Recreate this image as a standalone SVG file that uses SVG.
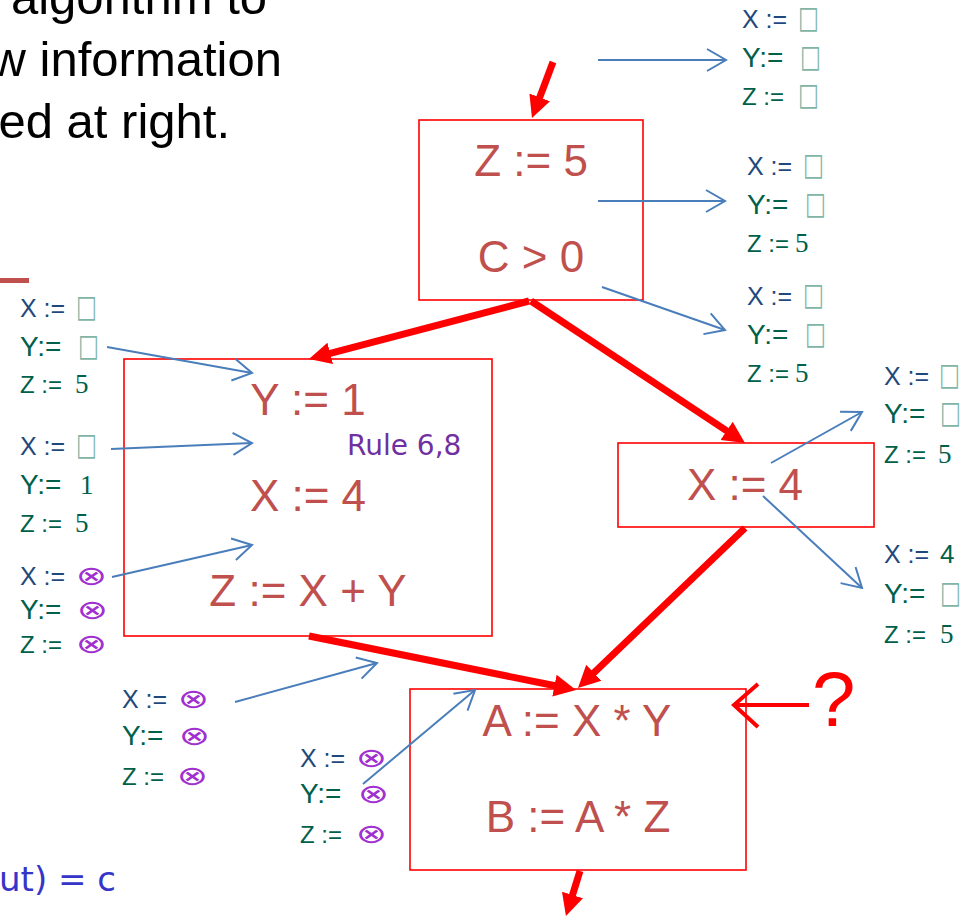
<svg xmlns="http://www.w3.org/2000/svg" width="961" height="916" viewBox="0 0 961 916">
  <style>
    .prose { font-family: "Liberation Sans", Arial, sans-serif; font-size: 49px; fill: #000; }
    .stmt { font-family: "Liberation Sans", Arial, sans-serif; font-size: 44px; fill: #c0504d; text-anchor: middle; }
    .blk { fill: #fff; stroke: #ff0000; stroke-width: 1.6; }
    .rule { font-family: "DejaVu Sans", sans-serif; font-size: 28px; fill: #7030a0; }
    .lx { font-family: "Liberation Sans", Arial, sans-serif; font-size: 25px; fill: #1f497d; }
    .ly { font-family: "Liberation Sans", Arial, sans-serif; font-size: 28px; fill: #00604a; }
    .lz { font-family: "Liberation Sans", Arial, sans-serif; font-size: 24px; fill: #00604a; }
    .num { font-family: "Liberation Serif", "Times New Roman", serif; font-size: 27px; fill: #00604a; }
    .sans { font-family: "Liberation Sans", Arial, sans-serif; font-size: 26px; fill: #00604a; }
    .top { font-family: "DejaVu Sans", sans-serif; font-size: 26px; fill: #7fb5a6; }
    .bot { font-family: "DejaVu Sans", sans-serif; font-size: 30px; font-style: italic; fill: #a030d0; }
    .flow { fill: none; stroke: #ff0000; stroke-width: 7; marker-end: url(#redHead); }
    .info { fill: none; stroke: #4a7ebb; stroke-width: 2; marker-end: url(#blueHead); }
  </style>
  <defs>
    <marker id="redHead" viewBox="-2 -12 24 24" refX="0" refY="0" markerWidth="24" markerHeight="24" markerUnits="userSpaceOnUse" orient="auto">
      <path d="M-2,-11 L20,0 L-2,11 Z" fill="#ff0000"/>
    </marker>
    <marker id="blueHead" viewBox="-22 -14 24 28" refX="0" refY="0" markerWidth="24" markerHeight="28" markerUnits="userSpaceOnUse" orient="auto">
      <path d="M-19,-11 L0,0 L-19,11" fill="none" stroke="#4a7ebb" stroke-width="2"/>
    </marker>
  </defs>

  <rect width="961" height="916" fill="#fff"/>

  <!-- slide prose, running off the left edge -->
  <g id="prose">
    <text class="prose" x="267" y="14" text-anchor="end">algorithm to</text>
    <text class="prose" x="282" y="76" text-anchor="end">w information</text>
    <text class="prose" x="230" y="138" text-anchor="end">ed at right.</text>
    <rect x="0" y="278" width="29" height="5" fill="#c0504d"/>
    <text x="116" y="891" text-anchor="end" font-family="DejaVu Sans, sans-serif" font-size="34" fill="#3535c8">ut) = c</text>
  </g>

  <!-- basic blocks -->
  <g id="block-entry">
    <rect class="blk" x="419" y="120" width="224" height="180"/>
    <text class="stmt" x="531" y="176">Z := 5</text>
    <text class="stmt" x="531" y="272">C &gt; 0</text>
  </g>
  <g id="block-then">
    <rect class="blk" x="124" y="359" width="368" height="277"/>
    <text class="stmt" x="308" y="415">Y := 1</text>
    <text class="stmt" x="308" y="511">X := 4</text>
    <text class="stmt" x="308" y="606">Z := X + Y</text>
    <text class="rule" x="347" y="455">Rule 6,8</text>
  </g>
  <g id="block-else">
    <rect class="blk" x="618" y="443" width="256" height="84"/>
    <text class="stmt" x="745" y="500">X := 4</text>
  </g>
  <g id="block-join">
    <rect class="blk" x="410" y="689" width="336" height="181"/>
    <text class="stmt" x="577" y="736">A := X * Y</text>
    <text class="stmt" x="578" y="832">B := A * Z</text>
  </g>

  <!-- control-flow and information-flow connectors -->
  <g id="connectors">
    <line class="flow" x1="553" y1="62" x2="539" y2="99.3"/>
    <line class="flow" x1="529" y1="301" x2="328.3" y2="353.9"/>
    <line class="flow" x1="531" y1="301" x2="728.3" y2="431.9"/>
    <line class="flow" x1="309" y1="636" x2="556.4" y2="686"/>
    <line class="flow" x1="745" y1="528" x2="592.4" y2="674.2"/>
    <line class="flow" x1="580" y1="871" x2="571.9" y2="896.9"/>

    <line class="info" x1="598" y1="60" x2="726" y2="60"/>
    <line class="info" x1="598" y1="201" x2="725" y2="201"/>
    <line class="info" x1="602" y1="287" x2="725" y2="330"/>
    <line class="info" x1="107" y1="347" x2="252" y2="373"/>
    <line class="info" x1="111" y1="449" x2="252" y2="443"/>
    <line class="info" x1="112" y1="577" x2="252" y2="545"/>
    <line class="info" x1="235" y1="702" x2="377" y2="663"/>
    <line class="info" x1="363" y1="784" x2="475" y2="690"/>
    <line class="info" x1="771" y1="463" x2="862" y2="412"/>
    <line class="info" x1="763" y1="496" x2="862" y2="588"/>

    <path d="M809,705 L736,705 M758,684 L734,705 L758,727" fill="none" stroke="#ff0000" stroke-width="4"/>
    <text x="812" y="726" font-family="Liberation Sans, Arial, sans-serif" font-size="78" fill="#ff0000">?</text>
  </g>

  <!-- facts at each program point -->
  <g id="state-entry">
    <text class="lx" x="742" y="28">X :=</text><text class="top" transform="translate(798 28) scale(0.85 1.2)">□</text>
    <text class="ly" x="742" y="67">Y:=</text><text class="top" transform="translate(800 67) scale(0.85 1.2)">□</text>
    <text class="lz" x="742" y="105">Z :=</text><text class="top" transform="translate(798 105) scale(0.85 1.2)">□</text>
  </g>
  <g id="state-after-z">
    <text class="lx" x="747" y="175">X :=</text><text class="top" transform="translate(803 175) scale(0.85 1.2)">□</text>
    <text class="ly" x="747" y="214">Y:=</text><text class="top" transform="translate(805 214) scale(0.85 1.2)">□</text>
    <text class="lz" x="747" y="252">Z :=<tspan class="num" x="795">5</tspan></text>
  </g>
  <g id="state-after-c">
    <text class="lx" x="747" y="305">X :=</text><text class="top" transform="translate(803 305) scale(0.85 1.2)">□</text>
    <text class="ly" x="747" y="344">Y:=</text><text class="top" transform="translate(805 344) scale(0.85 1.2)">□</text>
    <text class="lz" x="747" y="382">Z :=<tspan class="num" x="795">5</tspan></text>
  </g>
  <g id="state-then-in">
    <text class="lx" x="20" y="317">X :=</text><text class="top" transform="translate(76 317) scale(0.85 1.2)">□</text>
    <text class="ly" x="20" y="356">Y:=</text><text class="top" transform="translate(78 356) scale(0.85 1.2)">□</text>
    <text class="lz" x="20" y="393">Z :=<tspan class="num" x="75">5</tspan></text>
  </g>
  <g id="state-then-y">
    <text class="lx" x="20" y="455">X :=</text><text class="top" transform="translate(76 455) scale(0.85 1.2)">□</text>
    <text class="ly" x="20" y="494">Y:=<tspan class="num" x="80">1</tspan></text>
    <text class="lz" x="20" y="532">Z :=<tspan class="num" x="75">5</tspan></text>
  </g>
  <g id="state-then-x">
    <text class="lx" x="20" y="585">X :=</text><text class="bot" transform="translate(76 585) scale(1.25 0.9)">⊗</text>
    <text class="ly" x="20" y="619">Y:=</text><text class="bot" transform="translate(77 619) scale(1.25 0.9)">⊗</text>
    <text class="lz" x="20" y="653">Z :=</text><text class="bot" transform="translate(76 653) scale(1.25 0.9)">⊗</text>
  </g>
  <g id="state-then-out">
    <text class="lx" x="122" y="708">X :=</text><text class="bot" transform="translate(178 708) scale(1.25 0.9)">⊗</text>
    <text class="ly" x="122" y="745">Y:=</text><text class="bot" transform="translate(179 745) scale(1.25 0.9)">⊗</text>
    <text class="lz" x="122" y="785">Z :=</text><text class="bot" transform="translate(177 785) scale(1.25 0.9)">⊗</text>
  </g>
  <g id="state-join-in">
    <text class="lx" x="300" y="767">X :=</text><text class="bot" transform="translate(356 767) scale(1.25 0.9)">⊗</text>
    <text class="ly" x="300" y="803">Y:=</text><text class="bot" transform="translate(358 803) scale(1.25 0.9)">⊗</text>
    <text class="lz" x="300" y="843">Z :=</text><text class="bot" transform="translate(356 843) scale(1.25 0.9)">⊗</text>
  </g>
  <g id="state-else-in">
    <text class="lx" x="884" y="385">X :=</text><text class="top" transform="translate(939 385) scale(0.85 1.2)">□</text>
    <text class="ly" x="884" y="423">Y:=</text><text class="top" transform="translate(940 423) scale(0.85 1.2)">□</text>
    <text class="lz" x="884" y="463">Z :=<tspan class="num" x="938">5</tspan></text>
  </g>
  <g id="state-else-out">
    <text class="lx" x="884" y="563">X :=<tspan class="sans" x="940">4</tspan></text>
    <text class="ly" x="884" y="603">Y:=</text><text class="top" transform="translate(940 603) scale(0.85 1.2)">□</text>
    <text class="lz" x="884" y="643">Z :=<tspan class="num" x="940">5</tspan></text>
  </g>
</svg>
